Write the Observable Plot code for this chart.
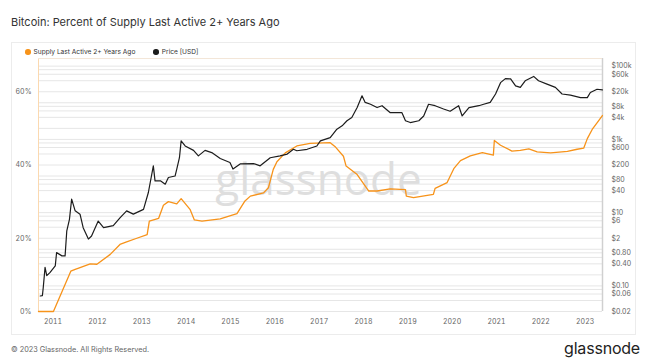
<!DOCTYPE html>
<html><head><meta charset="utf-8">
<script src="https://cdn.jsdelivr.net/npm/d3@7"></script>
<script src="https://cdn.jsdelivr.net/npm/@observablehq/plot@0.6"></script>
<style>
body{margin:0;background:#fff;font-family:Inter,"Open Sans",sans-serif;}
#wrap{position:relative;width:647px;height:360px;overflow:hidden;background:#fff;}
#title{position:absolute;left:11px;top:15px;font-size:11px;color:#333;white-space:nowrap;}
#card{position:absolute;left:11px;top:42px;width:625px;height:293px;border:1px solid #ececec;box-sizing:border-box;}
#legend{position:absolute;left:25px;top:48px;font-size:6.6px;color:#333;white-space:nowrap;}
#legend span{display:inline-block;margin-right:18px;}
#legend i{display:inline-block;width:5.5px;height:5.5px;border-radius:50%;margin-right:3px;vertical-align:-0.5px;}
#footer{position:absolute;left:11px;top:345px;font-size:7.3px;color:#666;white-space:nowrap;}
#logo{position:absolute;right:7px;top:338px;font-size:16px;color:#222;letter-spacing:-0.2px;}
</style></head>
<body><div id="wrap">
<div id="title">Bitcoin: Percent of Supply Last Active 2+ Years Ago</div>
<div id="card"></div>
<div id="layers"></div>
<div id="legend"></div>
<div id="footer">© 2023 Glassnode. All Rights Reserved.</div>
<div id="logo">glassnode</div>
</div>
<script>
const seriesNames = ["Supply Last Active 2+ Years Ago", "Price [USD]"];
const seriesColors = ["#f7931a", "#1c1c1c"];

const supplyDates = ["2010-09-03","2011-01-04","2011-05-27","2011-07-02","2011-08-11","2011-11-03","2011-12-28","2012-04-16","2012-07-05","2012-08-29","2012-11-21","2013-02-14","2013-03-04","2013-05-19","2013-06-28","2013-08-08","2013-10-16","2013-11-21","2014-02-02","2014-03-10","2014-05-12","2014-10-09","2015-02-24","2015-05-01","2015-06-14","2015-10-01","2015-11-10","2015-12-20","2016-01-19","2016-03-28","2016-07-01","2016-10-19","2017-04-02","2017-05-16","2017-07-20","2017-08-11","2017-11-10","2018-02-14","2018-04-23","2018-08-10","2018-12-13","2018-12-20","2019-02-17","2019-07-31","2019-08-14","2019-11-21","2020-01-15","2020-03-10","2020-05-30","2020-09-06","2020-12-06","2020-12-14","2021-02-03","2021-05-08","2021-07-16","2021-09-24","2021-12-02","2022-03-22","2022-08-08","2022-10-27","2022-12-20","2023-01-19","2023-02-28","2023-04-09","2023-05-23"];
const supplyPct = [0,0,11.0,11.5,12.0,13.0,12.9,15.6,18.3,19.0,20.0,21.0,24.7,25.4,29.0,30.0,29.4,30.8,27.9,25.0,24.7,25.3,26.7,30.2,31.5,32.4,33.8,38.8,40.9,43.3,45.2,45.9,46.1,44.9,42.4,39.7,37.4,32.9,32.9,33.5,33.3,31.5,31.1,32.0,33.6,35.2,39.0,41.2,42.5,43.4,42.7,46.7,45.4,43.8,44.0,44.4,43.6,43.3,43.7,44.3,44.6,47.2,49.7,51.5,53.5];

const priceDates = ["2010-09-17","2010-10-05","2010-10-12","2010-10-27","2010-11-10","2010-12-06","2011-01-19","2011-01-30","2011-03-15","2011-04-10","2011-04-24","2011-05-16","2011-06-03","2011-07-02","2011-08-11","2011-09-06","2011-10-19","2011-11-14","2012-01-08","2012-02-21","2012-05-11","2012-07-05","2012-08-29","2012-10-23","2013-01-15","2013-02-24","2013-04-06","2013-04-20","2013-06-03","2013-07-13","2013-08-08","2013-10-02","2013-10-16","2013-11-07","2013-11-21","2013-12-24","2014-03-03","2014-04-12","2014-06-06","2014-07-31","2014-10-09","2014-12-28","2015-01-22","2015-03-22","2015-07-10","2015-09-03","2015-11-25","2016-02-14","2016-04-13","2016-06-03","2016-07-01","2016-09-24","2016-12-13","2017-01-11","2017-04-02","2017-05-27","2017-07-09","2017-08-18","2017-09-27","2017-11-10","2017-12-20","2018-01-15","2018-02-28","2018-04-23","2018-06-03","2018-08-10","2018-11-14","2018-12-13","2019-01-22","2019-04-02","2019-05-12","2019-06-21","2019-08-14","2019-10-23","2019-12-16","2020-02-24","2020-03-24","2020-05-19","2020-08-08","2020-09-17","2020-11-10","2020-12-24","2021-02-03","2021-03-15","2021-04-27","2021-06-07","2021-07-16","2021-08-25","2021-11-03","2021-12-13","2022-02-21","2022-05-01","2022-06-25","2022-09-02","2022-11-24","2023-01-19","2023-02-13","2023-04-09","2023-05-23"];
const priceUsd = [0.053,0.054,0.089,0.32,0.19,0.23,0.35,0.81,0.66,0.66,3.2,6.6,23.4,11.2,9.1,3.9,1.9,2.3,5.9,3.9,4.4,7.2,11.2,9.1,12.3,35.5,190,74,74,60,91,100,155,316,912,661,501,355,501,437,302,234,155,214,219,190,316,355,398,537,490,537,661,912,1122,1905,2344,3236,3981,7413,15488,10233,9120,7413,8318,5370,5370,3236,2884,3236,4365,9120,8318,6761,5888,8318,4365,7413,8318,9120,10233,17378,35481,45709,44668,28840,26303,39811,52481,39811,32359,26303,17378,16218,13804,13804,19055,23442,22387];

const yearTicks = ["2011","2012","2013","2014","2015","2016","2017","2018","2019","2020","2021","2022","2023"];
const pctTicks = [0, 20, 40, 60];
const priceTicks = [100000,60000,20000,8000,4000,1000,600,200,80,40,10,6,2,0.8,0.4,0.1,0.06,0.02];
const priceTickLabels = ["$100k","$60k","$20k","$8k","$4k","$1k","$600","$200","$80","$40","$10","$6","$2","$0.80","$0.40","$0.10","$0.06","$0.02"];
const gridValues = [0.02,0.04,0.06,0.08,0.1,0.2,0.4,0.6,0.8,1,2,4,6,8,10,20,40,60,80,100,200,400,600,800,1000,2000,4000,6000,8000,10000,20000,40000,60000,80000,100000];

const xDomain = [new Date("2010-09-03"), new Date("2023-05-24")];
const pctDomain = [0, 69.08];
const priceDomain = [0.02, 161800];

const supply = supplyDates.map((d, i) => ({date: new Date(d), value: supplyPct[i]}));
const price = priceDates.map((d, i) => ({date: new Date(d), value: priceUsd[i]}));
const priceLabelRows = priceTicks.map((v, i) => ({value: v, label: priceTickLabels[i]}));

const W = 647, H = 295;
const M = {marginTop: 18, marginBottom: 24, marginLeft: 38, marginRight: 45};
const baseStyle = {background: "transparent", overflow: "visible", fontFamily: "Inter, 'Open Sans', sans-serif", fontSize: "7px", color: "#666"};

// Layer 1: grid, watermark, price axis
const gridLayer = Plot.plot({
  width: W, height: H, ...M, style: baseStyle,
  x: {domain: xDomain, axis: null},
  y: {type: "log", domain: priceDomain, axis: null},
  marks: [
    Plot.ruleY(gridValues, {stroke: "#e6e6e6", strokeWidth: 1}),
    Plot.text(["glassnode"], {frameAnchor: "middle", dx: -2, dy: -4, fontSize: 44, fill: "#dedede", fontFamily: "'Open Sans', Inter, sans-serif", fontWeight: 500}),
    Plot.ruleX([xDomain[1]], {stroke: "#d0d0d0", strokeWidth: 1.5}),
    Plot.text(priceLabelRows, {y: "value", text: "label", frameAnchor: "right", textAnchor: "start", dx: 9, fill: "#666", fontSize: 7})
  ]
});

// Layer 2: supply (%), left axis, x axis
const supplyLayer = Plot.plot({
  width: W, height: H, ...M, style: baseStyle,
  x: {domain: xDomain, ticks: yearTicks.map(y => new Date(y + "-01-01")), tickFormat: d3.timeFormat("%Y"), tickSize: 0, tickPadding: 8, label: null},
  y: {domain: pctDomain, ticks: pctTicks, tickFormat: d => d + "%", tickSize: 0, tickPadding: 7, label: null},
  marks: [
    Plot.ruleX([xDomain[0]], {stroke: "#fbd9b0", strokeWidth: 1}),
    Plot.ruleY([pctDomain[1]], {stroke: "#f3e6d8", strokeWidth: 1}),
    Plot.line(supply, {x: "date", y: "value", stroke: seriesColors[0], strokeWidth: 1.3})
  ]
});

// Layer 3: price line
const priceLayer = Plot.plot({
  width: W, height: H, ...M, style: baseStyle,
  x: {domain: xDomain, axis: null},
  y: {type: "log", domain: priceDomain, axis: null},
  marks: [
    Plot.line(price, {x: "date", y: "value", stroke: seriesColors[1], strokeWidth: 1.2})
  ]
});

const layers = document.getElementById("layers");
for (const el of [gridLayer, supplyLayer, priceLayer]) {
  el.style.position = "absolute";
  el.style.left = "0px";
  el.style.top = "40px";
  layers.appendChild(el);
}

const legend = document.getElementById("legend");
seriesNames.forEach((n, i) => {
  const s = document.createElement("span");
  s.innerHTML = `<i style="background:${seriesColors[i]}"></i>${n}`;
  legend.appendChild(s);
});
</script>
</body></html>
